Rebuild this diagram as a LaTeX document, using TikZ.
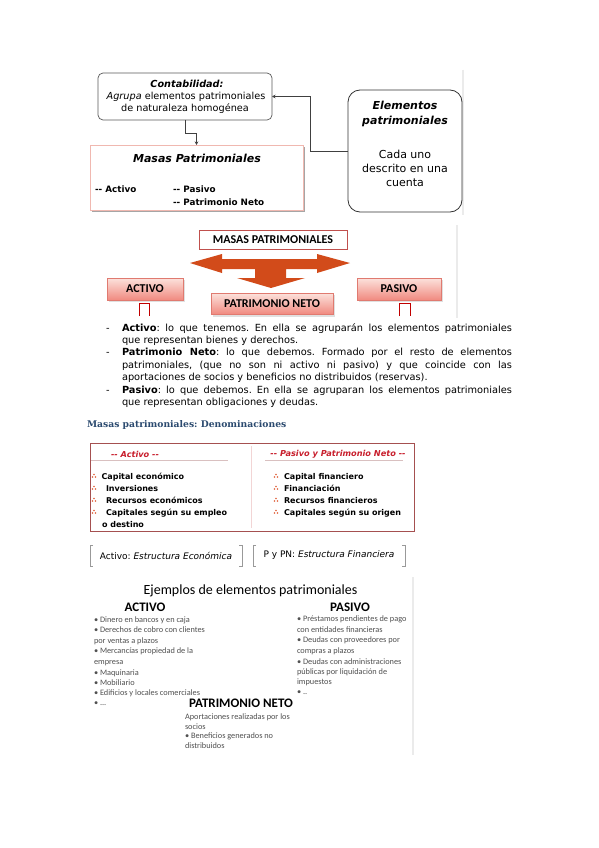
\documentclass[tikz,border=0pt]{standalone}
\usepackage{fontspec}
\setmainfont{DejaVu Sans}
\newfontfamily\carl{Carlito}
\newfontfamily\dvserif{DejaVu Serif}
\usetikzlibrary{arrows.meta}
\frenchspacing
\definecolor{pinkborder}{HTML}{F0B8B0}
\definecolor{mpborder}{HTML}{C0504D}
\definecolor{arroworange}{HTML}{D24B1A}
\definecolor{gradtop}{HTML}{FCE2DC}
\definecolor{gradbot}{HTML}{F08A80}
\definecolor{gradborder}{HTML}{E07A70}
\definecolor{glyphred}{HTML}{C00000}
\definecolor{headblue}{HTML}{2B4A6F}
\definecolor{denborder}{HTML}{A55050}
\definecolor{denred}{HTML}{C81E2C}
\definecolor{sepcol}{HTML}{F2D5D5}
\definecolor{ulcol}{HTML}{D9C0C0}
\definecolor{symcol}{HTML}{E0603A}
\definecolor{smallgray}{HTML}{505050}
\newcommand{\fsz}[2]{\fontsize{#1}{#2}\selectfont}
\newcommand{\jl}[1]{\makebox[390pt][s]{#1}}
\newcommand{\dd}{-{}-}
\newcommand{\trd}[1]{\fill[symcol] (#1) ++(0,-1.6) circle (0.85) ++(-1.5,2.6) circle (0.85) ++(3,0) circle (0.85);}
\tikzset{
  every node/.style={inner sep=0pt, outer sep=0pt},
  conn/.style={draw=black!75, line width=0.6pt, -{Stealth[length=3.5pt,width=3.5pt]}},
  para/.style={anchor=base west, font=\frenchspacing\fsz{9.8}{12}},
  gradbox/.style={draw=gradborder, line width=0.6pt, top color=gradtop, bottom color=gradbot, font=\carl\bfseries\fsz{12}{14}},
  topfont/.style={font=\fsz{9.7}{11}},
  elemfont/.style={font=\fsz{11}{13}},
  mini/.style={anchor=base west, font=\bfseries\fsz{8.8}{10}},
  denitem/.style={anchor=base west, font=\bfseries\fsz{8}{10}},
  denhead/.style={font=\bfseries\itshape\fsz{8.2}{10}, text=denred},
  small/.style={anchor=base west, font=\carl\fsz{8.3}{10}, text=smallgray},
  bighead/.style={font=\carl\bfseries\fsz{13}{15}},
  bracket/.style={draw=black!40, line width=0.6pt}
}
\begin{document}
\begin{tikzpicture}[x=1pt,y=-1pt]
\useasboundingbox (0,0) rectangle (599,848);
\fill[white] (0,0) rectangle (599,848);

% ---------- top figure ----------
\draw[black!8, line width=2pt] (463,70) -- (463,215);
\node[draw=black!65, rounded corners=5pt, line width=0.7pt, minimum width=174pt, minimum height=47pt] (cont) at (185,96.5) {};
\node[topfont, font=\bfseries\itshape\fsz{9.7}{11}] (contA) at (187,84) {Contabilidad:};
\node[topfont] (contB) at (186,96.5) {\textit{Agrupa} elementos patrimoniales};
\node[topfont] (contC) at (185,108.5) {de naturaleza homogénea};

\fill[black!35] (92,147) rectangle (305,212);
\node[draw=pinkborder, fill=white, line width=0.7pt, minimum width=213pt, minimum height=65pt] (masas) at (196.5,177.5) {};
\node[font=\bfseries\itshape\fsz{11}{13}] (masasT) at (197,158) {Masas Patrimoniales};
\node[mini] (mA) at (95,192) {\dd{} Activo};
\node[mini] (mB) at (173,192) {\dd{} Pasivo};
\node[mini] (mC) at (173,205) {\dd{} Patrimonio Neto};

\node[draw=black!80, rounded corners=12pt, line width=0.8pt, minimum width=114pt, minimum height=122pt] (elem) at (405,151) {};
\node[font=\bfseries\itshape\fsz{11}{13}] (eA) at (405,105) {Elementos};
\node[font=\bfseries\itshape\fsz{11}{13}] (eB) at (405,121) {patrimoniales};
\node[elemfont] (eC) at (405,154) {Cada uno};
\node[elemfont] (eD) at (405,168.5) {descrito en una};
\node[elemfont] (eE) at (405,183) {cuenta};

\draw[conn] (cont.south) -- ++(0,13) -| (masas.north);
\draw[conn] (elem.west) -- ++(-38,0) |- (cont.east);

% ---------- masas patrimoniales diagram ----------
\draw[black!8, line width=2pt] (457,225) -- (457,318);
\node[draw=mpborder, line width=1pt, fill=white, minimum width=148pt, minimum height=19pt, font=\carl\bfseries\fsz{12}{14}] (mp) at (273,239.5) {MASAS PATRIMONIALES};
\fill[arroworange] (190,263) -- (222,254) -- (222,259) -- (317,259) -- (317,254) -- (350,263)
  -- (317,273) -- (317,269) -- (286,269) -- (286,278) -- (305,278) -- (271,288) -- (237,278)
  -- (255,278) -- (255,269) -- (222,269) -- (222,273) -- cycle;
\fill[black!12] (109,280) rectangle (185,302);
\fill[black!12] (359,280) rectangle (443,302);
\fill[black!12] (213,295) rectangle (335,317);
\node[gradbox, minimum width=76pt, minimum height=22pt] (act) at (145,289) {ACTIVO};
\node[gradbox, minimum width=84pt, minimum height=22pt] (pas) at (399,289) {PASIVO};
\node[gradbox, minimum width=122pt, minimum height=21pt] (pn) at (272,303.5) {PATRIMONIO NETO};
\draw[glyphred, line width=1pt] (139,316) -- (139,303) -- (149,303) -- (149,316);
\draw[glyphred, line width=1pt] (399,316) -- (399,303) -- (410,303) -- (410,316);

% ---------- text ----------
\node[para] (d1) at (106,331) {-};
\node[para] (l1) at (122,331) {\jl{\textbf{Activo}: lo que tenemos. En ella se agruparán los elementos patrimoniales}};
\node[para] (l2) at (122,343) {que representan bienes y derechos.};
\node[para] (d2) at (106,355.5) {-};
\node[para] (l3) at (122,355.5) {\jl{\textbf{Patrimonio Neto}: lo que debemos. Formado por el resto de elementos}};
\node[para] (l4) at (122,368) {\jl{patrimoniales, (que no son ni activo ni pasivo) y que coincide con las}};
\node[para] (l5) at (122,380.5) {aportaciones de socios y beneficios no distribuidos (reservas).};
\node[para] (d3) at (106,393) {-};
\node[para] (l6) at (122,393) {\jl{\textbf{Pasivo}: lo que debemos. En ella se agruparan los elementos patrimoniales}};
\node[para] (l7) at (122,405) {que representan obligaciones y deudas.};

\node[anchor=base west, font=\dvserif\bfseries\fsz{9.2}{11}, text=headblue] (hd) at (87,427.5) {Masas patrimoniales: Denominaciones};

% ---------- denominaciones ----------
\node[draw=denborder, line width=0.8pt, minimum width=324pt, minimum height=88pt] (den) at (252,487) {};
\draw[sepcol, line width=0.8pt] (251,446) -- (251,528);
\node[denhead] (dh1) at (135,454) {\dd{} Activo \dd};
\node[denhead] (dh2) at (338,454) {\dd{} Pasivo y Patrimonio Neto \dd};
\draw[ulcol, line width=0.8pt] (91,460) -- (228,460);
\draw[ulcol, line width=0.8pt] (265,460) -- (403,460);
\trd{94,476}\trd{94,488}\trd{94,500}\trd{94,512}
\node[denitem] (a1) at (101.5,479) {Capital económico};
\node[denitem] (a2) at (106,491) {Inversiones};
\node[denitem] (a3) at (106,503) {Recursos económicos};
\node[denitem] (a4) at (106,515) {Capitales según su empleo};
\node[denitem] (a5) at (102,527) {o destino};
\trd{276,476}\trd{276,488}\trd{276,500}\trd{276,512}
\node[denitem] (b1) at (284,479) {Capital financiero};
\node[denitem] (b2) at (284,491) {Financiación};
\node[denitem] (b3) at (284,503) {Recursos financieros};
\node[denitem] (b4) at (284,515) {Capitales según su origen};

% ---------- bracket boxes ----------
\draw[bracket] (93,545) -- (90,545) -- (90,566) -- (93,566);
\draw[bracket] (239,545) -- (242,545) -- (242,566) -- (239,566);
\node[font=\fsz{9}{11}] (sa) at (166,555.5) {Activo: \textit{Estructura Económica}};
\draw[bracket] (256,545) -- (253,545) -- (253,566) -- (256,566);
\draw[bracket] (402,545) -- (405,545) -- (405,566) -- (402,566);
\node[font=\fsz{9}{11}] (sb) at (329,555.5) {P y PN: \textit{Estructura Financiera}};

% ---------- ejemplos ----------
\draw[black!8, line width=2pt] (413,577) -- (413,755);
\node[font=\carl\fsz{14}{16}] (ej) at (250.5,591) {Ejemplos de elementos patrimoniales};
\node[bighead] (ejA) at (145,607.5) {ACTIVO};
\node[bighead] (ejP) at (350,607.5) {PASIVO};
\node[small] (x1) at (94,622) {• Dinero en bancos y en caja};
\node[small] (x2) at (94,632.5) {• Derechos de cobro con clientes};
\node[small] (x3) at (94,643) {por ventas a plazos};
\node[small] (x4) at (94,653.5) {• Mercancías propiedad de la};
\node[small] (x5) at (94,664) {empresa};
\node[small] (x6) at (94,675) {• Maquinaria};
\node[small] (x7) at (94,685.5) {• Mobiliario};
\node[small] (x8) at (94,695.5) {• Edificios y locales comerciales};
\node[small] (x9) at (94,705) {• ...};
\node[small] (y1) at (297,621.5) {• Préstamos pendientes de pago};
\node[small] (y2) at (297,632) {con entidades financieras};
\node[small] (y3) at (297,642.5) {• Deudas con proveedores por};
\node[small] (y4) at (297,653.5) {compras a plazos};
\node[small] (y5) at (297,664.5) {• Deudas con administraciones};
\node[small] (y6) at (297,674.5) {públicas por liquidación de};
\node[small] (y7) at (297,684.5) {impuestos};
\node[small] (y8) at (297,694.5) {• ..};
\node[bighead] (ejN) at (241,703) {PATRIMONIO NETO};
\node[small] (z1) at (185,719.5) {Aportaciones realizadas por los};
\node[small] (z2) at (185,729) {socios};
\node[small] (z3) at (185,738.5) {• Beneficios generados no};
\node[small] (z4) at (185,748) {distribuidos};
\end{tikzpicture}
\end{document}
